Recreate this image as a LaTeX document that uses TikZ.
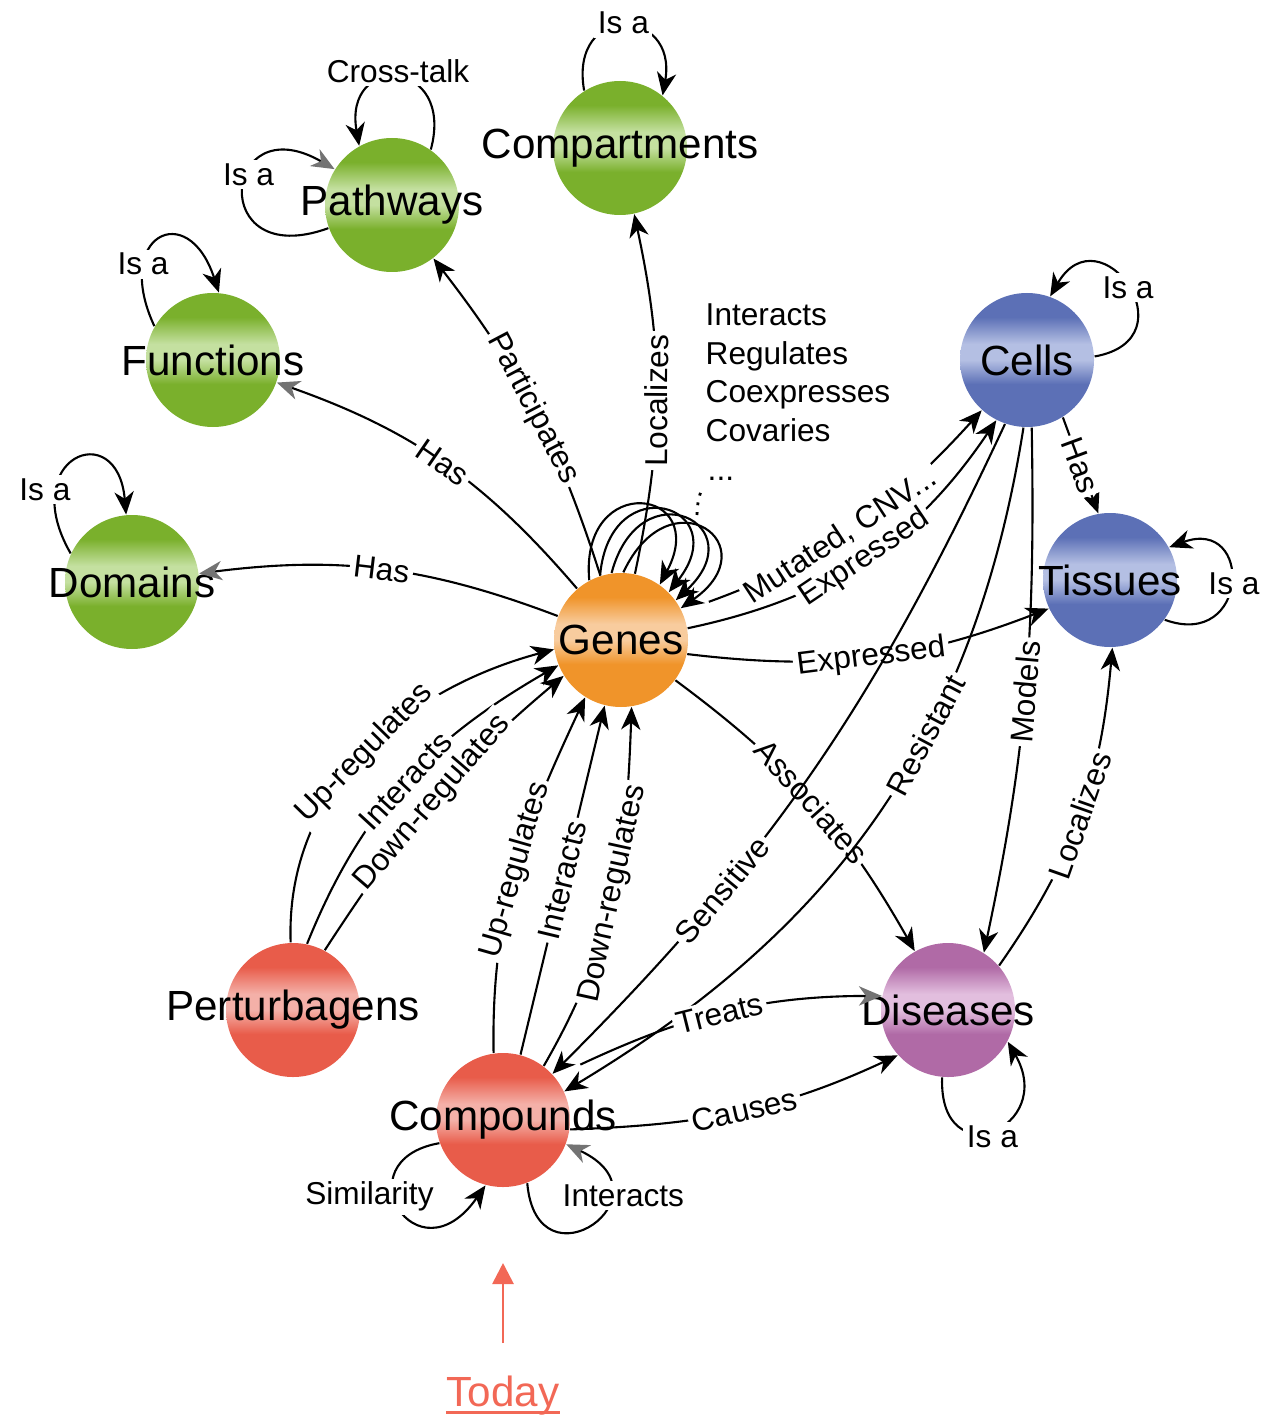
\documentclass[tikz,border=0pt]{standalone}
\usepackage{fontspec}
\setmainfont{Liberation Sans}
\usetikzlibrary{arrows.meta, positioning}

% ball colours
\definecolor{greendark}{RGB}{122,176,44}
\definecolor{greenlight}{RGB}{196,224,160}
\definecolor{orangedark}{RGB}{240,148,42}
\definecolor{orangelight}{RGB}{248,204,158}
\definecolor{bluedark}{RGB}{92,112,182}
\definecolor{bluelight}{RGB}{180,191,227}
\definecolor{purpledark}{RGB}{176,106,166}
\definecolor{purplelight}{RGB}{226,190,222}
\definecolor{reddark}{RGB}{232,92,74}
\definecolor{redlight}{RGB}{244,176,168}
\definecolor{todayred}{RGB}{242,104,86}

\newcommand{\ballshading}[3]{%
  \pgfdeclareverticalshading{#1}{100bp}{color(0bp)=(#2); color(41bp)=(#2);
    color(50bp)=(#3); color(56bp)=(#3); color(66bp)=(#2); color(100bp)=(#2)}}
\ballshading{greenball}{greendark}{greenlight}
\ballshading{orangeball}{orangedark}{orangelight}
\ballshading{blueball}{bluedark}{bluelight}
\ballshading{purpleball}{purpledark}{purplelight}
\ballshading{redball}{reddark}{redlight}

\tikzset{
  ball/.style={circle, shade, inner sep=0pt, minimum size=1.34cm},
  tag/.style={font=\fontsize{9}{11}\selectfont, fill=white, inner sep=1pt},
  rel/.style={tag, sloped},
  link/.style={line width=0.6pt, -{Stealth[length=6.5pt, width=5.5pt, inset=2pt]}},
  greylink/.style={line width=0.6pt, -{Stealth[length=6.5pt, width=5.5pt, inset=2pt, color=black!55]}},
  every label/.style={font=\fontsize{12}{14}\selectfont},
}

\begin{document}
\begin{tikzpicture}
    \useasboundingbox (0,0) rectangle (12.6,-14.18);

    % entity types
    \node[ball, shading=orangeball, label=center:Genes] (genes) at (6.21,-6.40) {};
    \node[ball, shading=greenball, label=center:Compartments] (comp) at (6.20,-1.48) {};
    \node[ball, shading=greenball, label=center:Pathways] (pathw) at (3.92,-2.05) {};
    \node[ball, shading=greenball, label=center:Functions] (func) at (2.13,-3.60) {};
    \node[ball, shading=greenball, label=center:Domains] (dom) at (1.32,-5.82) {};
    \node[ball, shading=blueball, label=center:Cells] (cells) at (10.27,-3.60) {};
    \node[ball, shading=blueball, label=center:Tissues] (tiss) at (11.10,-5.80) {};
    \node[ball, shading=purpleball, label=center:Diseases] (dis) at (9.48,-10.10) {};
    \node[ball, shading=redball, label=center:Compounds] (cpd) at (5.03,-11.20) {};
    \node[ball, shading=redball, label=center:Perturbagens] (pert) at (2.93,-10.10) {};

    % gene-gene relation types
    \node[tag, fill=none, inner sep=0pt, anchor=north west, align=left] (reltypes) at (7.05,-3.03)
        {Interacts\\Regulates\\Coexpresses\\Covaries};
    \node[tag, fill=none, inner sep=0pt, anchor=base west] (moretypes) at (7.07,-4.80) {...};
    \coordinate (loopdots) at (6.97,-5.15);
    \draw[dotted, line width=0.8pt, shorten >=2pt] (loopdots) to[bend left=15] (moretypes.south west);

    % self loops
    \draw[link] (genes.118) .. controls +(95:1.1) and +(62:1.1) .. (genes.55);
    \draw[link] (genes.108) .. controls +(85:1.1) and +(52:1.1) .. (genes.45);
    \draw[link] (genes.98) .. controls +(75:1.1) and +(43:1.1) .. (genes.36);
    \draw[link] (genes.88) .. controls +(65:1.1) and +(35:1.1) .. (genes.28);
    \draw[link] (comp.122) .. controls +(100:0.9) and +(80:0.9) .. node[tag, yshift=1pt] {Is a} (comp.51);
    \draw[link] (pathw.55) .. controls +(75:0.95) and +(100:0.95) .. node[tag, yshift=2pt] {Cross-talk} (pathw.119);
    \draw[greylink] (pathw.200) .. controls +(200:1.3) and +(150:1.3) .. node[tag, pos=0.6] {Is a} (pathw.148);
    \draw[link] (func.150) .. controls +(115:1.0) and +(108:1.0) .. node[tag, pos=0.28] {Is a} (func.85);
    \draw[link] (dom.155) .. controls +(120:1.1) and +(95:1.0) .. node[tag, pos=0.27, xshift=-3pt] {Is a} (dom.95);
    \draw[link] (cells.3) .. controls +(10:1.0) and +(60:1.0) .. node[tag] {Is a} (cells.70);
    \draw[link] (tiss.-36) .. controls +(-20:0.9) and +(20:0.9) .. node[tag, xshift=1pt] {Is a} (tiss.29);
    \draw[link] (dis.265) .. controls +(268:1.0) and +(-60:1.0) .. node[tag, yshift=-2pt] {Is a} (dis.-28);
    \draw[link] (cpd.200) .. controls +(190:1.0) and +(235:1.2) .. node[tag, pos=0.42, xshift=-7pt] {Similarity} (cpd.255);
    \draw[greylink] (cpd.-69) .. controls +(-85:1.1) and +(-25:1.2) .. node[tag, pos=0.7, xshift=4.5pt] {Interacts} (cpd.-21);

    % genes to annotations
    \draw[link] (genes) to[bend right=10] node[rel] {Participates} (pathw);
    \draw[link] (genes) to[bend right=12] node[rel, pos=0.48] {Localizes} (comp);
    \draw[greylink] (genes) to[bend right=15] node[rel] {Has} (func);
    \draw[greylink] (genes) to[bend right=14] node[rel] {Has} (dom);
    \draw[link, shorten <=8pt] (genes.25) to[bend right=14] node[rel, pos=0.48] {Mutated, CNV...} (cells.228);
    \draw[link] (genes.10) to[bend right=22] node[rel] {Expressed} (cells.243);
    \draw[link] (genes.-12) to[bend right=14] node[rel] {Expressed} (tiss.205);
    \draw[link] (genes) to[bend left=12] node[rel] {Associates} (dis);

    % cells and diseases
    \draw[link] (cells.-58) -- node[rel] {Has} (tiss.100);
    \draw[link] (cells.251) to[out=245, in=45] node[rel, pos=0.7] {Sensitive} (cpd.43);
    \draw[link] (cells.267) to[out=261, in=31] node[rel, pos=0.38] {Resistant} (cpd.25);
    \draw[link] (cells.274) to[out=271, in=78] node[rel] {Models} (dis.58);
    \draw[link] (dis.41) to[out=55, in=265] node[rel] {Localizes} (tiss.272);

    % compounds and perturbagens
    \draw[link] (cpd.98) to[out=91, in=245] node[rel] {Up-regulates} (genes.238);
    \draw[link] (cpd.75) -- node[rel] {Interacts} (genes.256);
    \draw[link] (cpd.53) to[out=60, in=268] node[rel] {Down-regulates} (genes.279);
    \draw[link] (pert.92) to[out=92, in=195] node[rel] {Up-regulates} (genes.188);
    \draw[link] (pert.78) to[out=68, in=210] node[rel] {Interacts} (genes.202);
    \draw[link] (pert.62) to[out=57, in=220] node[rel] {Down-regulates} (genes.212);
    \draw[greylink, shorten <=8pt] (cpd.40) to[out=25, in=180] node[rel, pos=0.52] {Treats} (dis.168);
    \draw[link] (cpd.-8) to[out=2, in=205] node[rel, pos=0.52] {Causes} (dis.222);

    % today marker
    \node[text=todayred, font=\fontsize{12}{14}\selectfont, inner sep=0pt, anchor=base] (today) at (5.03,-14.06) {Today};
    \draw[todayred, line width=0.7pt] ([yshift=-1.8pt]today.base west) -- ([yshift=-1.8pt]today.base east);
    \coordinate (todaytip) at (5.03,-12.63);
    \draw[todayred, line width=0.8pt, -{Triangle[length=6pt, width=6pt]}, shorten <=9pt] (today) -- (todaytip);
\end{tikzpicture}
\end{document}
